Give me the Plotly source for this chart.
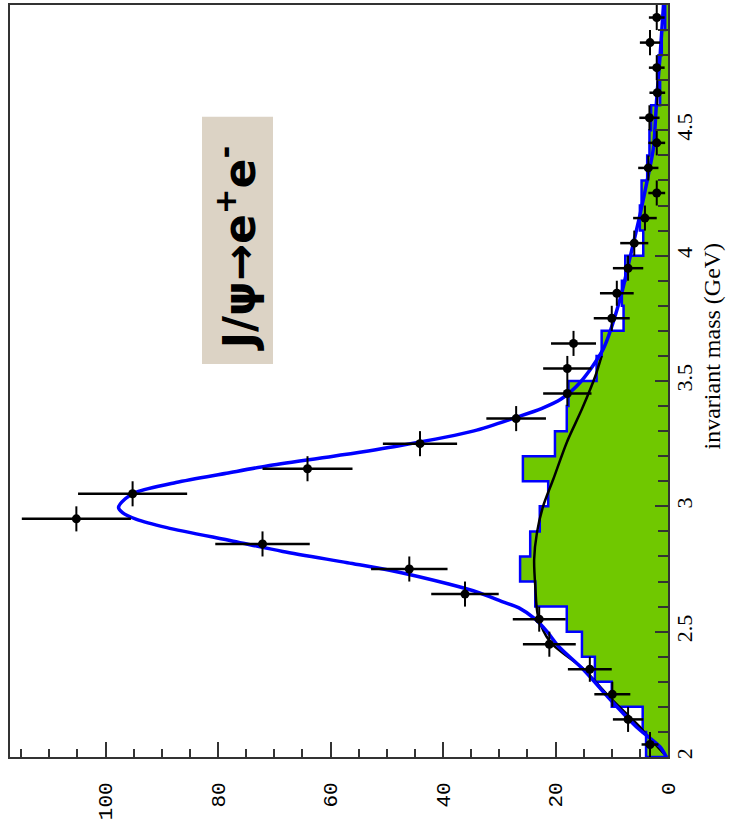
import plotly.graph_objects as go

# ---------------- data ----------------
# data points: invariant mass bin centres (GeV), counts, count errors
mass_centers = [2.05, 2.15, 2.25, 2.35, 2.45, 2.55, 2.65, 2.75, 2.85, 2.95,
                3.05, 3.15, 3.25, 3.35, 3.45, 3.55, 3.65, 3.75, 3.85, 3.95,
                4.05, 4.15, 4.25, 4.35, 4.45, 4.55, 4.65, 4.75, 4.85, 4.95]
counts = [3.2, 7.1, 9.9, 13.9, 21.1, 22.9, 36.1, 46.0, 72.1, 105.2,
          95.2, 64.1, 44.1, 27.0, 17.9, 17.9, 16.8, 10.0, 9.1, 7.1,
          6.0, 4.1, 2.0, 3.5, 2.0, 3.3, 1.9, 2.0, 3.2, 2.0]
count_err = [1.5, 2.7, 3.2, 3.9, 4.7, 4.7, 6.0, 6.8, 8.4, 9.7,
             9.7, 8.0, 6.6, 5.3, 4.3, 4.3, 4.0, 3.2, 3.0, 2.7,
             2.5, 2.1, 1.5, 1.8, 1.5, 1.8, 1.4, 1.4, 1.8, 1.4]
mass_half_width = [0.05] * len(mass_centers)

# background histogram (green): lower bin edges and contents
hist_lo = [2.0, 2.1, 2.2, 2.3, 2.4, 2.5, 2.6, 2.7, 2.8, 2.9,
           3.0, 3.1, 3.2, 3.3, 3.4, 3.5, 3.6, 3.7, 3.8, 3.9,
           4.0, 4.1, 4.2, 4.3, 4.4, 4.5, 4.6, 4.7, 4.8, 4.9]
hist_counts = [3.9, 4.5, 10.0, 13.0, 15.3, 18.0, 23.6, 26.3, 24.5, 22.8,
               21.3, 25.8, 20.1, 18.0, 17.7, 12.7, 11.8, 7.9, 8.2, 7.6,
               4.4, 5.0, 4.7, 3.7, 3.3, 3.0, 1.4, 1.7, 1.1, 0.5]
bin_width = 0.1

# total fit curve (blue)
fit_mass = [2.00, 2.04, 2.12, 2.23, 2.35, 2.44, 2.50, 2.55, 2.595, 2.62,
            2.655, 2.69, 2.745, 2.775, 2.82, 2.861, 2.915, 2.948, 2.975,
            2.995, 3.03, 3.057, 3.095, 3.132, 3.161, 3.20, 3.241, 3.301,
            3.355, 3.39, 3.428, 3.495, 3.628, 3.828, 3.988, 4.161, 4.321,
            4.428, 4.628, 4.80, 5.00]
fit_counts = [0.3, 1.4, 5.6, 10.3, 15.1, 19.4, 21.5, 23.6, 26.5, 29.5,
              33.5, 39.0, 49.5, 57.0, 68.5, 77.3, 89.1, 94.5, 97.0,
              97.7, 96.5, 94.5, 87.5, 78.5, 71.3, 59.5, 48.0, 34.5,
              27.0, 22.5, 19.0, 15.6, 11.5, 8.5, 6.8, 5.0, 3.5,
              2.6, 2.0, 1.4, 0.8]

# background curve (black)
bkg_mass = [2.008, 2.088, 2.12, 2.23, 2.35, 2.461, 2.561, 2.681, 2.788,
            2.895, 3.001, 3.108, 3.255, 3.388, 3.521, 3.60]
bkg_counts = [0.5, 3.8, 5.0, 10.0, 15.0, 21.0, 23.1, 23.6, 23.8,
              23.3, 22.2, 20.4, 18.0, 15.3, 12.9, 11.8]

x_ticks = [0, 20, 40, 60, 80, 100]

# ---------------- build figure ----------------
step_x, step_y = [], []
for lo, c in zip(hist_lo, hist_counts):
    step_x += [c, c]
    step_y += [lo, lo + bin_width]
fill_x = [0] + step_x + [0]
fill_y = [hist_lo[0]] + step_y + [hist_lo[-1] + bin_width]

fig = go.Figure()
fig.add_trace(go.Scatter(x=fill_x, y=fill_y, mode="lines", fill="toself",
                         fillcolor="#70c800", line=dict(width=0),
                         hoverinfo="skip"))
fig.add_trace(go.Scatter(x=fill_x[:-1], y=fill_y[:-1], mode="lines",
                         line=dict(color="#0000ff", width=2.5),
                         hoverinfo="skip"))
fig.add_trace(go.Scatter(x=bkg_counts, y=bkg_mass, mode="lines",
                         line=dict(color="black", width=2.5, shape="spline",
                                   smoothing=0.8)))
fig.add_trace(go.Scatter(x=fit_counts, y=fit_mass, mode="lines",
                         line=dict(color="#0000ff", width=3.5, shape="spline",
                                   smoothing=0.8)))
fig.add_trace(go.Scatter(
    x=counts, y=mass_centers, mode="markers",
    marker=dict(color="black", size=9),
    error_x=dict(type="data", array=count_err, color="black",
                 thickness=2.5, width=0),
    error_y=dict(type="data", array=mass_half_width, color="black",
                 thickness=2, width=0)))

axis_col = "#333333"
fig.update_xaxes(range=[117, 0], tickmode="array", tickvals=x_ticks,
                 ticks="inside", ticklen=15, tickwidth=2, tickcolor=axis_col,
                 minor=dict(dtick=5, tick0=0, ticks="inside", ticklen=8,
                            tickwidth=2, tickcolor=axis_col),
                 tickangle=-90, showline=True, linecolor=axis_col,
                 linewidth=2, mirror=True, showgrid=False, zeroline=False,
                 tickfont=dict(family="Liberation Mono", size=21,
                               color="black"),
                 ticklabelstandoff=15)
fig.update_yaxes(range=[2, 5], side="right", tick0=2, dtick=0.5,
                 ticks="inside", ticklen=13, tickwidth=2, tickcolor=axis_col,
                 minor=dict(dtick=0.1, tick0=2, ticks="inside", ticklen=10,
                            tickwidth=2, tickcolor=axis_col),
                 tickangle=-90, showline=True, linecolor=axis_col,
                 linewidth=2, mirror=True, showgrid=False, zeroline=False,
                 tickfont=dict(family="Liberation Serif", size=22,
                               color="black"),
                 ticklabelstandoff=-4)

fig.update_layout(
    width=731, height=827, margin=dict(l=10, r=63, t=3, b=70),
    plot_bgcolor="white", paper_bgcolor="white", showlegend=False,
    shapes=[dict(type="rect", xref="paper", yref="paper",
                 x0=0.2918, x1=0.3997, y0=0.5225, y1=0.8515,
                 fillcolor="#dcd3c5", line=dict(width=0), layer="above")],
    annotations=[
        dict(text="J/ψ→e<sup>+</sup>e<sup>-</sup>", xref="paper",
             yref="paper", x=0.343, y=0.676, showarrow=False,
             xanchor="center", yanchor="middle", textangle=-90,
             font=dict(family="DejaVu Sans", size=44, color="black",
                       weight="bold")),
        dict(text="invariant mass (GeV)", xref="paper", yref="paper",
             x=1.067, y=0.546, showarrow=False, textangle=-90,
             xanchor="center", yanchor="middle",
             font=dict(family="Liberation Serif", size=24, color="black")),
    ],
)

fig.write_html("out.html", config={"displayModeBar": False},
               post_script="document.body.style.margin='0';")
